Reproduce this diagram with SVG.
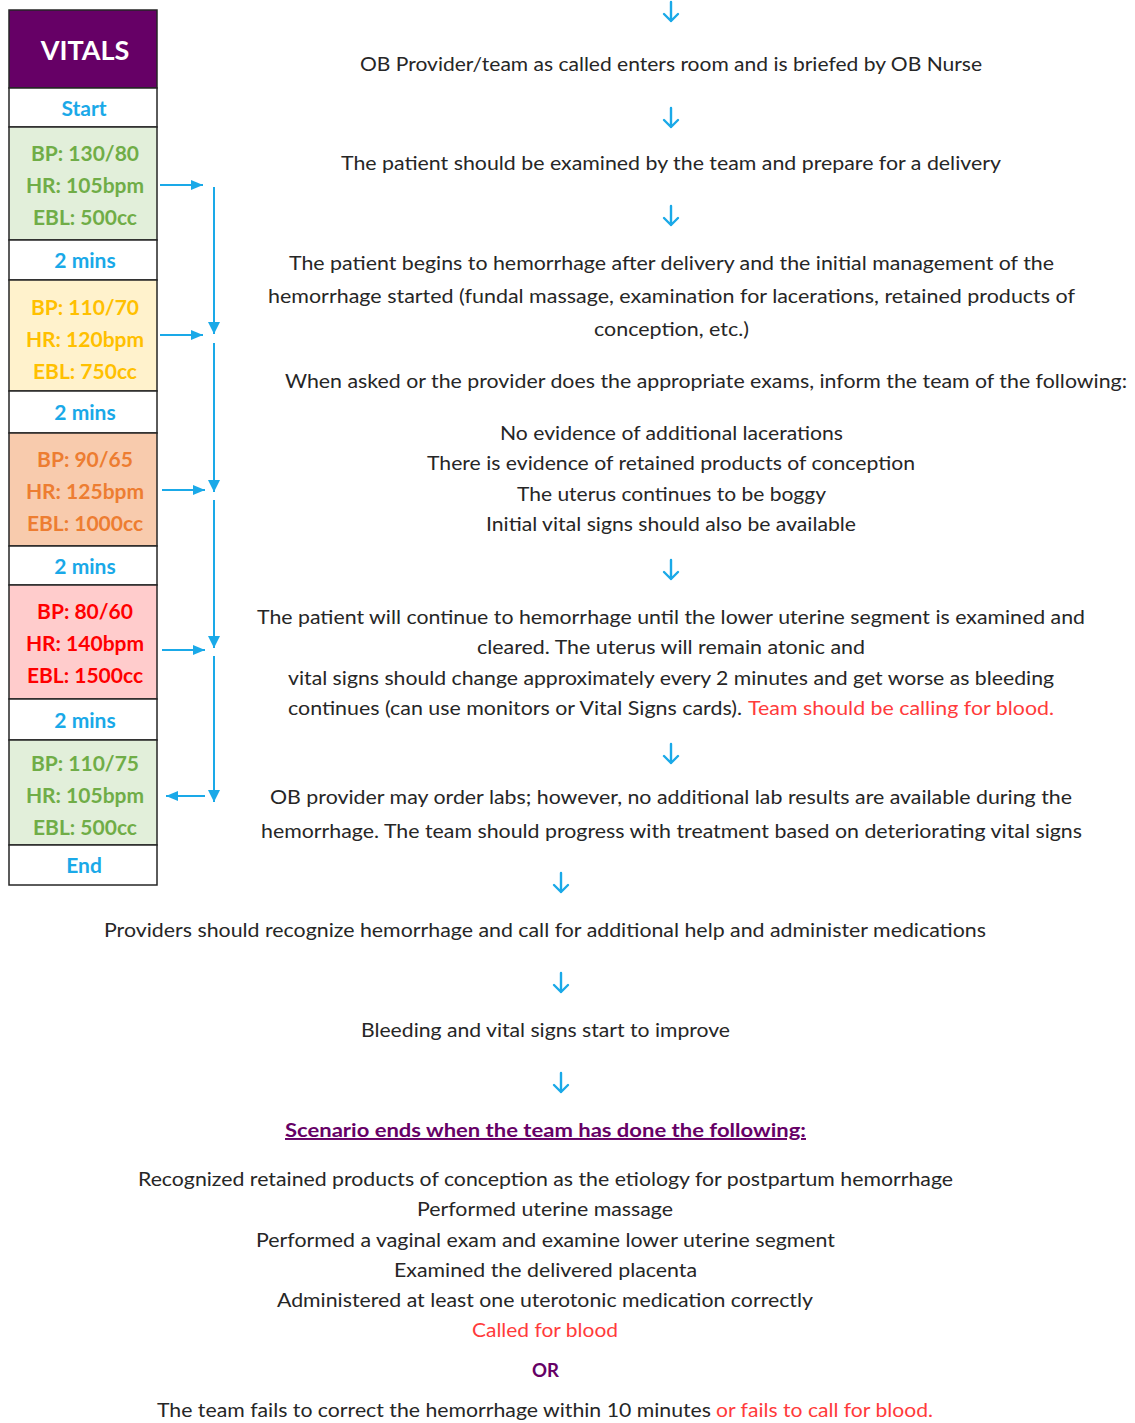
<svg xmlns="http://www.w3.org/2000/svg" width="1135" height="1423" viewBox="0 0 1135 1423">
<style>
.t{font-family:Lato,"Open Sans","Liberation Sans",sans-serif;font-size:19.5px;fill:#262626}
.r{fill:#ff3b3b}
.v{font-family:Lato,"Open Sans","Liberation Sans",sans-serif;font-size:21px;font-weight:bold;text-anchor:middle}
.box{stroke:#262626;stroke-width:1.5}
.blue{fill:#1aa9e8}
.ln{stroke:#1aa9e8;stroke-width:2;fill:none}
.dn{stroke:#1aa9e8;stroke-width:2.4;fill:none;stroke-linecap:round;stroke-linejoin:round}
.pur{fill:#660066;font-weight:bold}
</style>
<defs>
<marker id="ah" viewBox="0 0 12 10" refX="12" refY="5" markerWidth="12" markerHeight="10" markerUnits="userSpaceOnUse" orient="auto">
<path d="M0,0 L12,5 L0,10 z" fill="#1aa9e8"/>
</marker>
<marker id="ahv" viewBox="0 0 12 12" refX="12" refY="6" markerWidth="12" markerHeight="12" markerUnits="userSpaceOnUse" orient="auto">
<path d="M0,0 L12,6 L0,12 z" fill="#1aa9e8"/>
</marker>
<path id="down" class="dn" d="M0,-10 V9 M-7,2 L0,9 L7,2"/>
</defs>
<rect width="1135" height="1423" fill="#ffffff"/>

<g id="vitals">
<g id="v-header"><rect class="box" x="9" y="10" width="148" height="78" fill="#660066"/><text class="v" x="85" y="60" fill="#ffffff" style="font-size:27px">VITALS</text></g>
<g id="v-start"><rect class="box" x="9" y="88" width="148" height="39" fill="#ffffff"/><text class="v blue" x="84" y="116">Start</text></g>
<g id="v-1"><rect class="box" x="9" y="127" width="148" height="113" fill="#e2efda"/>
<text class="v" fill="#70ad47" x="85" y="161">BP: 130/80</text><text class="v" fill="#70ad47" x="85" y="193">HR: 105bpm</text><text class="v" fill="#70ad47" x="85" y="225">EBL: 500cc</text></g>
<g id="v-m1"><rect class="box" x="9" y="240" width="148" height="40" fill="#ffffff"/><text class="v blue" x="85" y="268">2 mins</text></g>
<g id="v-2"><rect class="box" x="9" y="280" width="148" height="111" fill="#fff2cc"/>
<text class="v" fill="#ffc000" x="85" y="315">BP: 110/70</text><text class="v" fill="#ffc000" x="85" y="347">HR: 120bpm</text><text class="v" fill="#ffc000" x="85" y="379">EBL: 750cc</text></g>
<g id="v-m2"><rect class="box" x="9" y="391" width="148" height="42" fill="#ffffff"/><text class="v blue" x="85" y="420">2 mins</text></g>
<g id="v-3"><rect class="box" x="9" y="433" width="148" height="113" fill="#f8cbad"/>
<text class="v" fill="#ed7d31" x="85" y="467">BP: 90/65</text><text class="v" fill="#ed7d31" x="85" y="499">HR: 125bpm</text><text class="v" fill="#ed7d31" x="85" y="531">EBL: 1000cc</text></g>
<g id="v-m3"><rect class="box" x="9" y="546" width="148" height="39" fill="#ffffff"/><text class="v blue" x="85" y="574">2 mins</text></g>
<g id="v-4"><rect class="box" x="9" y="585" width="148" height="114" fill="#ffcccc"/>
<text class="v" fill="#ff0000" x="85" y="619">BP: 80/60</text><text class="v" fill="#ff0000" x="85" y="651">HR: 140bpm</text><text class="v" fill="#ff0000" x="85" y="683">EBL: 1500cc</text></g>
<g id="v-m4"><rect class="box" x="9" y="699" width="148" height="41" fill="#ffffff"/><text class="v blue" x="85" y="728">2 mins</text></g>
<g id="v-5"><rect class="box" x="9" y="740" width="148" height="105" fill="#e2efda"/>
<text class="v" fill="#70ad47" x="85" y="771">BP: 110/75</text><text class="v" fill="#70ad47" x="85" y="803">HR: 105bpm</text><text class="v" fill="#70ad47" x="85" y="835">EBL: 500cc</text></g>
<g id="v-end"><rect class="box" x="9" y="845" width="148" height="40" fill="#ffffff"/><text class="v blue" x="84" y="873">End</text></g>
</g>

<g id="connectors">
<line class="ln" x1="160" y1="185" x2="203" y2="185" marker-end="url(#ah)"/>
<line class="ln" x1="160" y1="335" x2="203" y2="335" marker-end="url(#ah)"/>
<line class="ln" x1="162" y1="490" x2="205" y2="490" marker-end="url(#ah)"/>
<line class="ln" x1="162" y1="650" x2="205" y2="650" marker-end="url(#ah)"/>
<line class="ln" x1="205" y1="796" x2="166" y2="796" marker-end="url(#ah)"/>
<line class="ln" x1="214" y1="187" x2="214" y2="334" marker-end="url(#ahv)"/>
<line class="ln" x1="214" y1="343" x2="214" y2="492" marker-end="url(#ahv)"/>
<line class="ln" x1="214" y1="500" x2="214" y2="648" marker-end="url(#ahv)"/>
<line class="ln" x1="214" y1="656" x2="214" y2="802" marker-end="url(#ahv)"/>
<use href="#down" x="671" y="12"/>
<use href="#down" x="671" y="118"/>
<use href="#down" x="671" y="216"/>
<use href="#down" x="671" y="570"/>
<use href="#down" x="671" y="754"/>
<use href="#down" x="561" y="883"/>
<use href="#down" x="561" y="983"/>
<use href="#down" x="561" y="1083"/>
</g>

<g id="step1"><text class="t" x="360" y="71" textLength="622" lengthAdjust="spacingAndGlyphs">OB Provider/team as called enters room and is briefed by OB Nurse</text></g>
<g id="step2"><text class="t" x="341" y="170" textLength="660" lengthAdjust="spacingAndGlyphs">The patient should be examined by the team and prepare for a delivery</text></g>
<g id="step3">
<text class="t" x="289" y="270" textLength="765" lengthAdjust="spacingAndGlyphs">The patient begins to hemorrhage after delivery and the initial management of the</text>
<text class="t" x="268" y="303" textLength="807" lengthAdjust="spacingAndGlyphs">hemorrhage started (fundal massage, examination for lacerations, retained products of</text>
<text class="t" x="594" y="336" textLength="155" lengthAdjust="spacingAndGlyphs">conception, etc.)</text>
</g>
<g id="step4">
<text class="t" x="285" y="388" textLength="842" lengthAdjust="spacingAndGlyphs">When asked or the provider does the appropriate exams, inform the team of the following:</text>
<text class="t" x="500" y="440" textLength="343" lengthAdjust="spacingAndGlyphs">No evidence of additional lacerations</text>
<text class="t" x="427" y="470" textLength="488" lengthAdjust="spacingAndGlyphs">There is evidence of retained products of conception</text>
<text class="t" x="517" y="501" textLength="309" lengthAdjust="spacingAndGlyphs">The uterus continues to be boggy</text>
<text class="t" x="486" y="531" textLength="370" lengthAdjust="spacingAndGlyphs">Initial vital signs should also be available</text>
</g>
<g id="step5">
<text class="t" x="257" y="624" textLength="828" lengthAdjust="spacingAndGlyphs">The patient will continue to hemorrhage until the lower uterine segment is examined and</text>
<text class="t" x="477" y="654" textLength="388" lengthAdjust="spacingAndGlyphs">cleared. The uterus will remain atonic and</text>
<text class="t" x="288" y="685" textLength="766" lengthAdjust="spacingAndGlyphs">vital signs should change approximately every 2 minutes and get worse as bleeding</text>
<text class="t" x="288" y="715" textLength="454" lengthAdjust="spacingAndGlyphs">continues (can use monitors or Vital Signs cards).</text>
<text class="t r" x="748" y="715" textLength="306" lengthAdjust="spacingAndGlyphs">Team should be calling for blood.</text>
</g>
<g id="step6">
<text class="t" x="270" y="804" textLength="802" lengthAdjust="spacingAndGlyphs">OB provider may order labs; however, no additional lab results are available during the</text>
<text class="t" x="261" y="838" textLength="821" lengthAdjust="spacingAndGlyphs">hemorrhage. The team should progress with treatment based on deteriorating vital signs</text>
</g>
<g id="step7"><text class="t" x="104" y="937" textLength="882" lengthAdjust="spacingAndGlyphs">Providers should recognize hemorrhage and call for additional help and administer medications</text></g>
<g id="step8"><text class="t" x="361" y="1037" textLength="369" lengthAdjust="spacingAndGlyphs">Bleeding and vital signs start to improve</text></g>
<g id="ending">
<text class="t pur" x="285" y="1137" textLength="521" lengthAdjust="spacingAndGlyphs" style="text-decoration:underline">Scenario ends when the team has done the following:</text>
<text class="t" x="138" y="1186" textLength="815" lengthAdjust="spacingAndGlyphs">Recognized retained products of conception as the etiology for postpartum hemorrhage</text>
<text class="t" x="417" y="1216" textLength="256" lengthAdjust="spacingAndGlyphs">Performed uterine massage</text>
<text class="t" x="256" y="1247" textLength="579" lengthAdjust="spacingAndGlyphs">Performed a vaginal exam and examine lower uterine segment</text>
<text class="t" x="394" y="1277" textLength="303" lengthAdjust="spacingAndGlyphs">Examined the delivered placenta</text>
<text class="t" x="277" y="1307" textLength="536" lengthAdjust="spacingAndGlyphs">Administered at least one uterotonic medication correctly</text>
<text class="t r" x="472" y="1337" textLength="146" lengthAdjust="spacingAndGlyphs">Called for blood</text>
<text class="t pur" x="532" y="1377" textLength="27" lengthAdjust="spacingAndGlyphs">OR</text>
<text class="t" x="157" y="1417" textLength="554" lengthAdjust="spacingAndGlyphs">The team fails to correct the hemorrhage within 10 minutes</text>
<text class="t r" x="716" y="1417" textLength="217" lengthAdjust="spacingAndGlyphs">or fails to call for blood.</text>
</g>
</svg>
